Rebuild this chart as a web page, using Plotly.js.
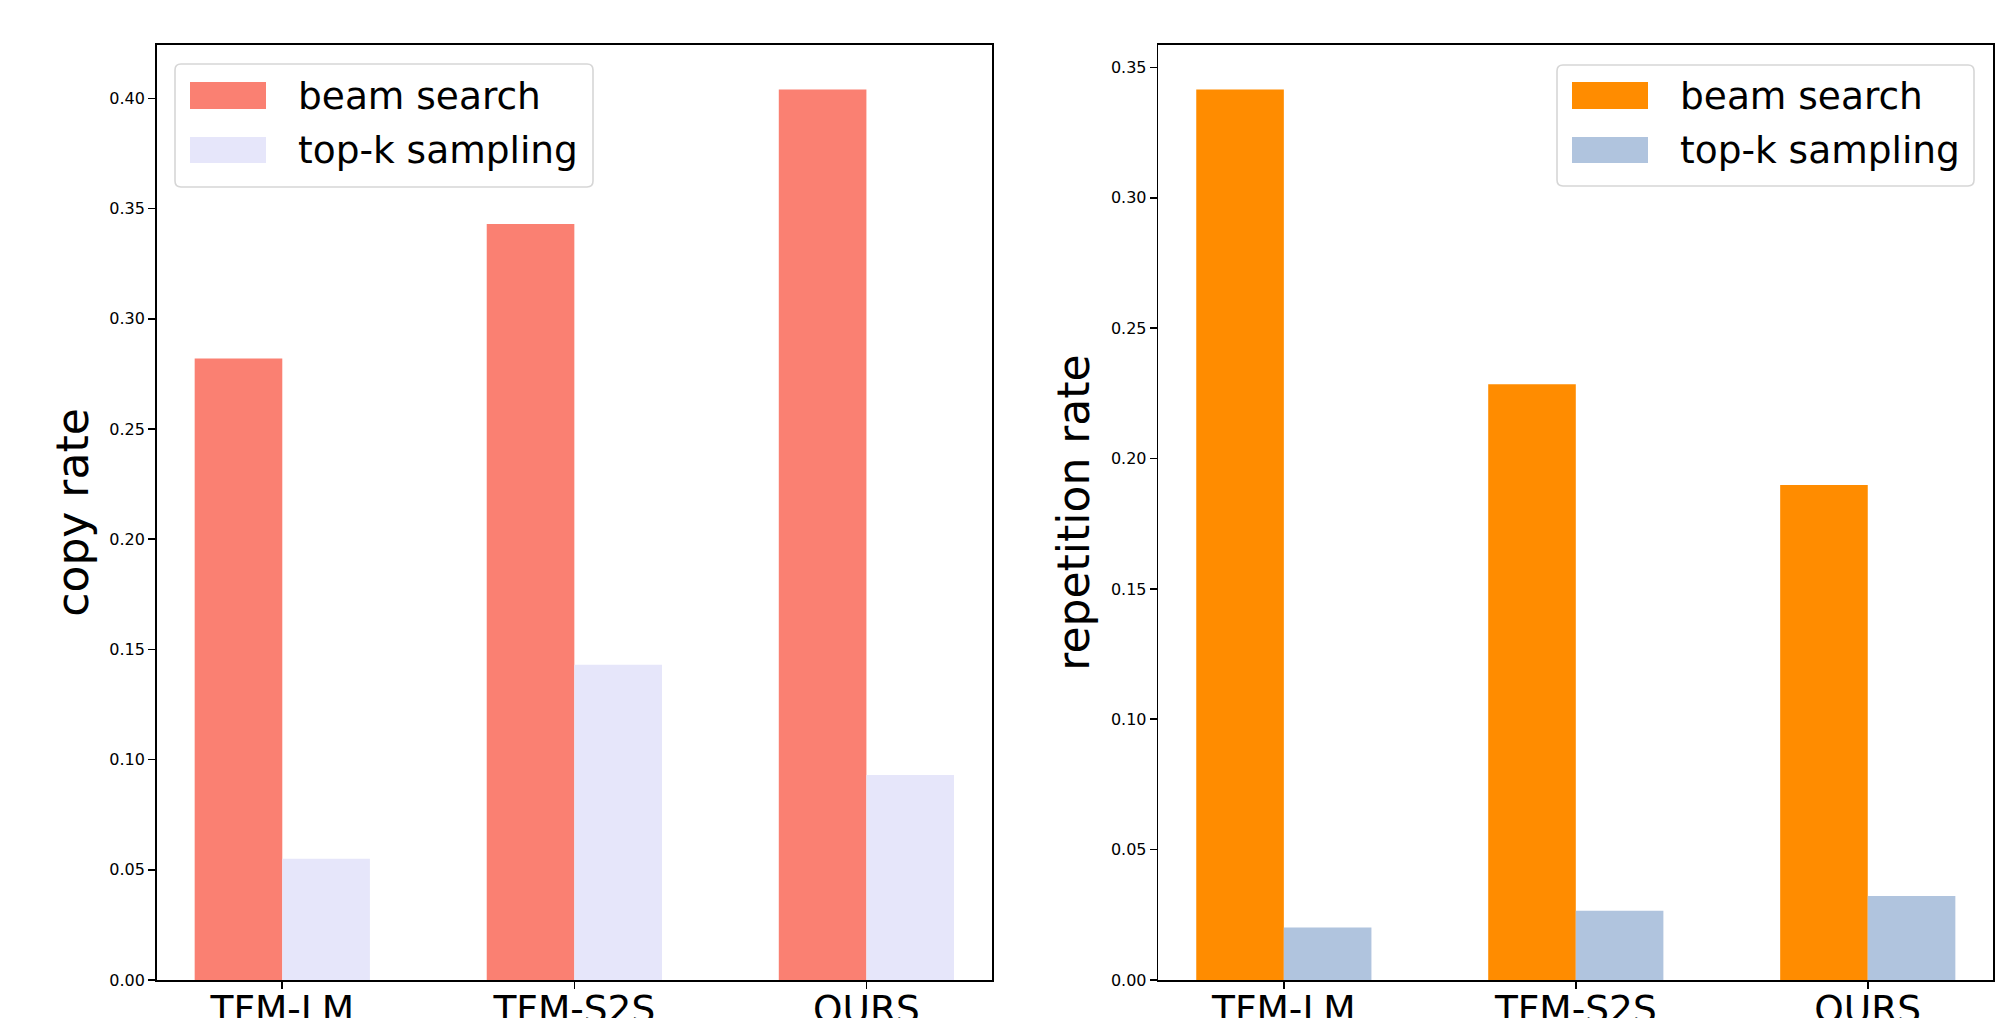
<!DOCTYPE html>
<html>
<head>
<meta charset="utf-8">
<script src="https://cdn.plot.ly/plotly-3.0.1.min.js"></script>
<style>
  html, body { margin: 0; padding: 0; background: #ffffff; overflow: hidden; }
  #chart { width: 2002px; height: 1018px; }
</style>
</head>
<body>
<div id="chart"></div>
<script>
// ---- data ----
const categories = ['TFM-LM', 'TFM-S2S', 'OURS'];
const seriesNames = ['beam search', 'top-k sampling'];
const copyBeam = [0.282, 0.343, 0.404];
const copyTopk = [0.055, 0.143, 0.093];
const repBeam = [0.3415, 0.2285, 0.1898];
const repTopk = [0.0201, 0.0266, 0.0322];
const yTitles = ['copy rate', 'repetition rate'];

// ---- styling ----
const W = 2002, H = 1018;
const FONT = 'DejaVu Sans, Liberation Sans, sans-serif';
const BIG = 37.5;
const colors = {
  copyBeam: '#FA8072', copyTopk: '#E6E6FA',
  repBeam: '#FF8C00', repTopk: '#B0C4DE'
};
const px = v => v / W;
const py = v => 1 - v / H;

const traces = [
  { type: 'bar', x: categories, y: copyBeam, name: seriesNames[0], xaxis: 'x', yaxis: 'y',
    marker: { color: colors.copyBeam, line: { width: 0 } }, showlegend: false },
  { type: 'bar', x: categories, y: copyTopk, name: seriesNames[1], xaxis: 'x', yaxis: 'y',
    marker: { color: colors.copyTopk, line: { width: 0 } }, showlegend: false },
  { type: 'bar', x: categories, y: repBeam, name: seriesNames[0], xaxis: 'x2', yaxis: 'y2',
    marker: { color: colors.repBeam, line: { width: 0 } }, showlegend: false },
  { type: 'bar', x: categories, y: repTopk, name: seriesNames[1], xaxis: 'x2', yaxis: 'y2',
    marker: { color: colors.repTopk, line: { width: 0 } }, showlegend: false }
];

const xCommon = {
  type: 'category', range: [-0.43, 2.43], showgrid: false, zeroline: false,
  showline: true, linecolor: '#000000', linewidth: 1.6, mirror: true,
  ticks: 'outside', ticklen: 7, tickwidth: 1.6, tickcolor: '#000000',
  ticklabelstandoff: -12,
  tickfont: { family: FONT, size: BIG, color: '#000000' }, fixedrange: true
};
const yCommon = {
  showgrid: false, zeroline: false,
  showline: true, linecolor: '#000000', linewidth: 1.6, mirror: true,
  ticks: 'outside', ticklen: 7, tickwidth: 1.6, tickcolor: '#000000',
  dtick: 0.05, tick0: 0, tickformat: '.2f',
  tickfont: { family: FONT, size: 16, color: '#000000' }, fixedrange: true
};

const yDomain = [py(980), py(45)];

// legend drawn as shapes + annotations
function roundRect(x0, y0, x1, y1, r) {
  const rx = r / W, ry = r / H;
  const X0 = px(x0), X1 = px(x1), Y0 = py(y0), Y1 = py(y1);
  return `M${X0 + rx},${Y0} L${X1 - rx},${Y0} Q${X1},${Y0} ${X1},${Y0 - ry} ` +
         `L${X1},${Y1 + ry} Q${X1},${Y1} ${X1 - rx},${Y1} ` +
         `L${X0 + rx},${Y1} Q${X0},${Y1} ${X0},${Y1 + ry} ` +
         `L${X0},${Y0 - ry} Q${X0},${Y0} ${X0 + rx},${Y0} Z`;
}
function legend(box, sw, textX, cols) {
  const shapes = [
    { type: 'path', xref: 'paper', yref: 'paper', path: roundRect(box[0], box[1], box[2], box[3], 6),
      fillcolor: 'rgba(255,255,255,0.8)', line: { color: '#d6d6d6', width: 1.6 }, layer: 'above' },
    { type: 'rect', xref: 'paper', yref: 'paper', x0: px(sw[0]), x1: px(sw[1]), y0: py(sw[3]), y1: py(sw[2]),
      fillcolor: cols[0], line: { width: 0 }, layer: 'above' },
    { type: 'rect', xref: 'paper', yref: 'paper', x0: px(sw[0]), x1: px(sw[1]), y0: py(sw[5]), y1: py(sw[4]),
      fillcolor: cols[1], line: { width: 0 }, layer: 'above' }
  ];
  const anns = [0, 1].map(i => ({
    xref: 'paper', yref: 'paper', x: px(textX), y: py(i === 0 ? (sw[2] + sw[3]) / 2 : (sw[4] + sw[5]) / 2),
    xanchor: 'left', yanchor: 'middle', showarrow: false, text: seriesNames[i],
    font: { family: FONT, size: BIG, color: '#000000' }
  }));
  return { shapes, anns };
}
const legL = legend([175, 64, 593, 187], [190, 266, 82, 109, 137, 163], 296, [colors.copyBeam, colors.copyTopk]);
const legR = legend([1557, 65, 1974, 186], [1572, 1648, 82, 109, 137, 163], 1678, [colors.repBeam, colors.repTopk]);

const layout = {
  width: W, height: H,
  margin: { l: 0, r: 0, t: 0, b: 0, pad: 0 },
  paper_bgcolor: '#ffffff', plot_bgcolor: '#ffffff',
  barmode: 'group', bargap: 0.4, bargroupgap: 0,
  font: { family: FONT, color: '#000000' },
  xaxis: Object.assign({}, xCommon, { domain: [px(156.7), px(992)], anchor: 'y' }),
  yaxis: Object.assign({}, yCommon, { domain: yDomain, range: [0, 0.4242], anchor: 'x',
    title: { text: yTitles[0], font: { family: FONT, size: 44, color: '#000000' }, standoff: 7 } }),
  xaxis2: Object.assign({}, xCommon, { domain: [px(1158.3), px(1993.3)], anchor: 'y2' }),
  yaxis2: Object.assign({}, yCommon, { domain: yDomain, range: [0, 0.3586], anchor: 'x2',
    title: { text: yTitles[1], font: { family: FONT, size: 44, color: '#000000' }, standoff: 7 } }),
  shapes: legL.shapes.concat(legR.shapes),
  annotations: legL.anns.concat(legR.anns),
  showlegend: false
};

Plotly.newPlot('chart', traces, layout, { displayModeBar: false, staticPlot: true });
</script>
</body>
</html>
